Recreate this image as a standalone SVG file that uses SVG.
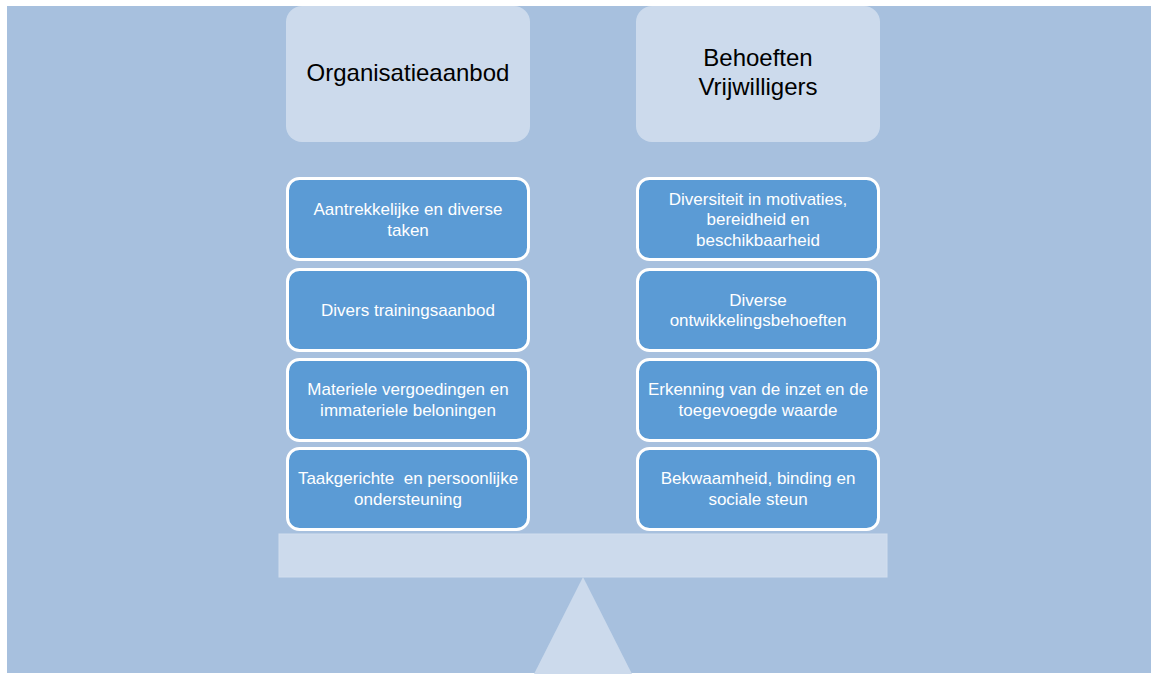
<svg xmlns="http://www.w3.org/2000/svg" width="1151" height="674" viewBox="0 0 1151 674">
<style>
.title{fill:#CCDAEC}
.item{fill:#5B9BD5;stroke:#FFFFFF;stroke-width:3}
.tt{font-family:"Liberation Sans",Arial,sans-serif;font-size:24px;fill:#000000;text-anchor:middle}
.it{font-family:"Liberation Sans",Arial,sans-serif;font-size:17px;fill:#FFFFFF;text-anchor:middle}
.light{fill:#CCDAEC}
</style>
<rect x="0" y="0" width="1151" height="674" fill="#FFFFFF"/>
<rect x="7" y="6" width="1144" height="667" fill="#A7C0DE"/>
<g id="scale">
<rect class="light" x="279" y="534" width="608" height="43" stroke="#D2DEEE" stroke-width="1"/>
<polygon class="light" points="583,577 632,674 534,674"/>
</g>
<g id="title-left">
<rect class="title" x="286" y="6" width="244" height="136" rx="16"/>
<text class="tt" x="408" y="81">Organisatieaanbod</text>
</g>
<g id="title-right">
<rect class="title" x="636" y="6" width="244" height="136" rx="16"/>
<text class="tt" x="758" y="66">Behoeften</text>
<text class="tt" x="758" y="95">Vrijwilligers</text>
</g>
<g id="left-1">
<rect class="item" x="287.5" y="178.5" width="241" height="81" rx="12"/>
<text class="it" x="408" y="215">Aantrekkelijke en diverse</text>
<text class="it" x="408" y="236">taken</text>
</g>
<g id="left-2">
<rect class="item" x="287.5" y="269.5" width="241" height="81" rx="12"/>
<text class="it" x="408" y="316">Divers trainingsaanbod</text>
</g>
<g id="left-3">
<rect class="item" x="287.5" y="359.5" width="241" height="81" rx="12"/>
<text class="it" x="408" y="395">Materiele vergoedingen en</text>
<text class="it" x="408" y="416">immateriele beloningen</text>
</g>
<g id="left-4">
<rect class="item" x="287.5" y="448.5" width="241" height="81" rx="12"/>
<text class="it" x="408" y="484" xml:space="preserve">Taakgerichte  en persoonlijke</text>
<text class="it" x="408" y="505">ondersteuning</text>
</g>
<g id="right-1">
<rect class="item" x="637.5" y="178.5" width="241" height="81" rx="12"/>
<text class="it" x="758" y="205">Diversiteit in motivaties,</text>
<text class="it" x="758" y="225">bereidheid en</text>
<text class="it" x="758" y="246">beschikbaarheid</text>
</g>
<g id="right-2">
<rect class="item" x="637.5" y="269.5" width="241" height="81" rx="12"/>
<text class="it" x="758" y="306">Diverse</text>
<text class="it" x="758" y="326">ontwikkelingsbehoeften</text>
</g>
<g id="right-3">
<rect class="item" x="637.5" y="359.5" width="241" height="81" rx="12"/>
<text class="it" x="758" y="395">Erkenning van de inzet en de</text>
<text class="it" x="758" y="416">toegevoegde waarde</text>
</g>
<g id="right-4">
<rect class="item" x="637.5" y="448.5" width="241" height="81" rx="12"/>
<text class="it" x="758" y="484">Bekwaamheid, binding en</text>
<text class="it" x="758" y="505">sociale steun</text>
</g>
<g id="connectors"></g>
</svg>
